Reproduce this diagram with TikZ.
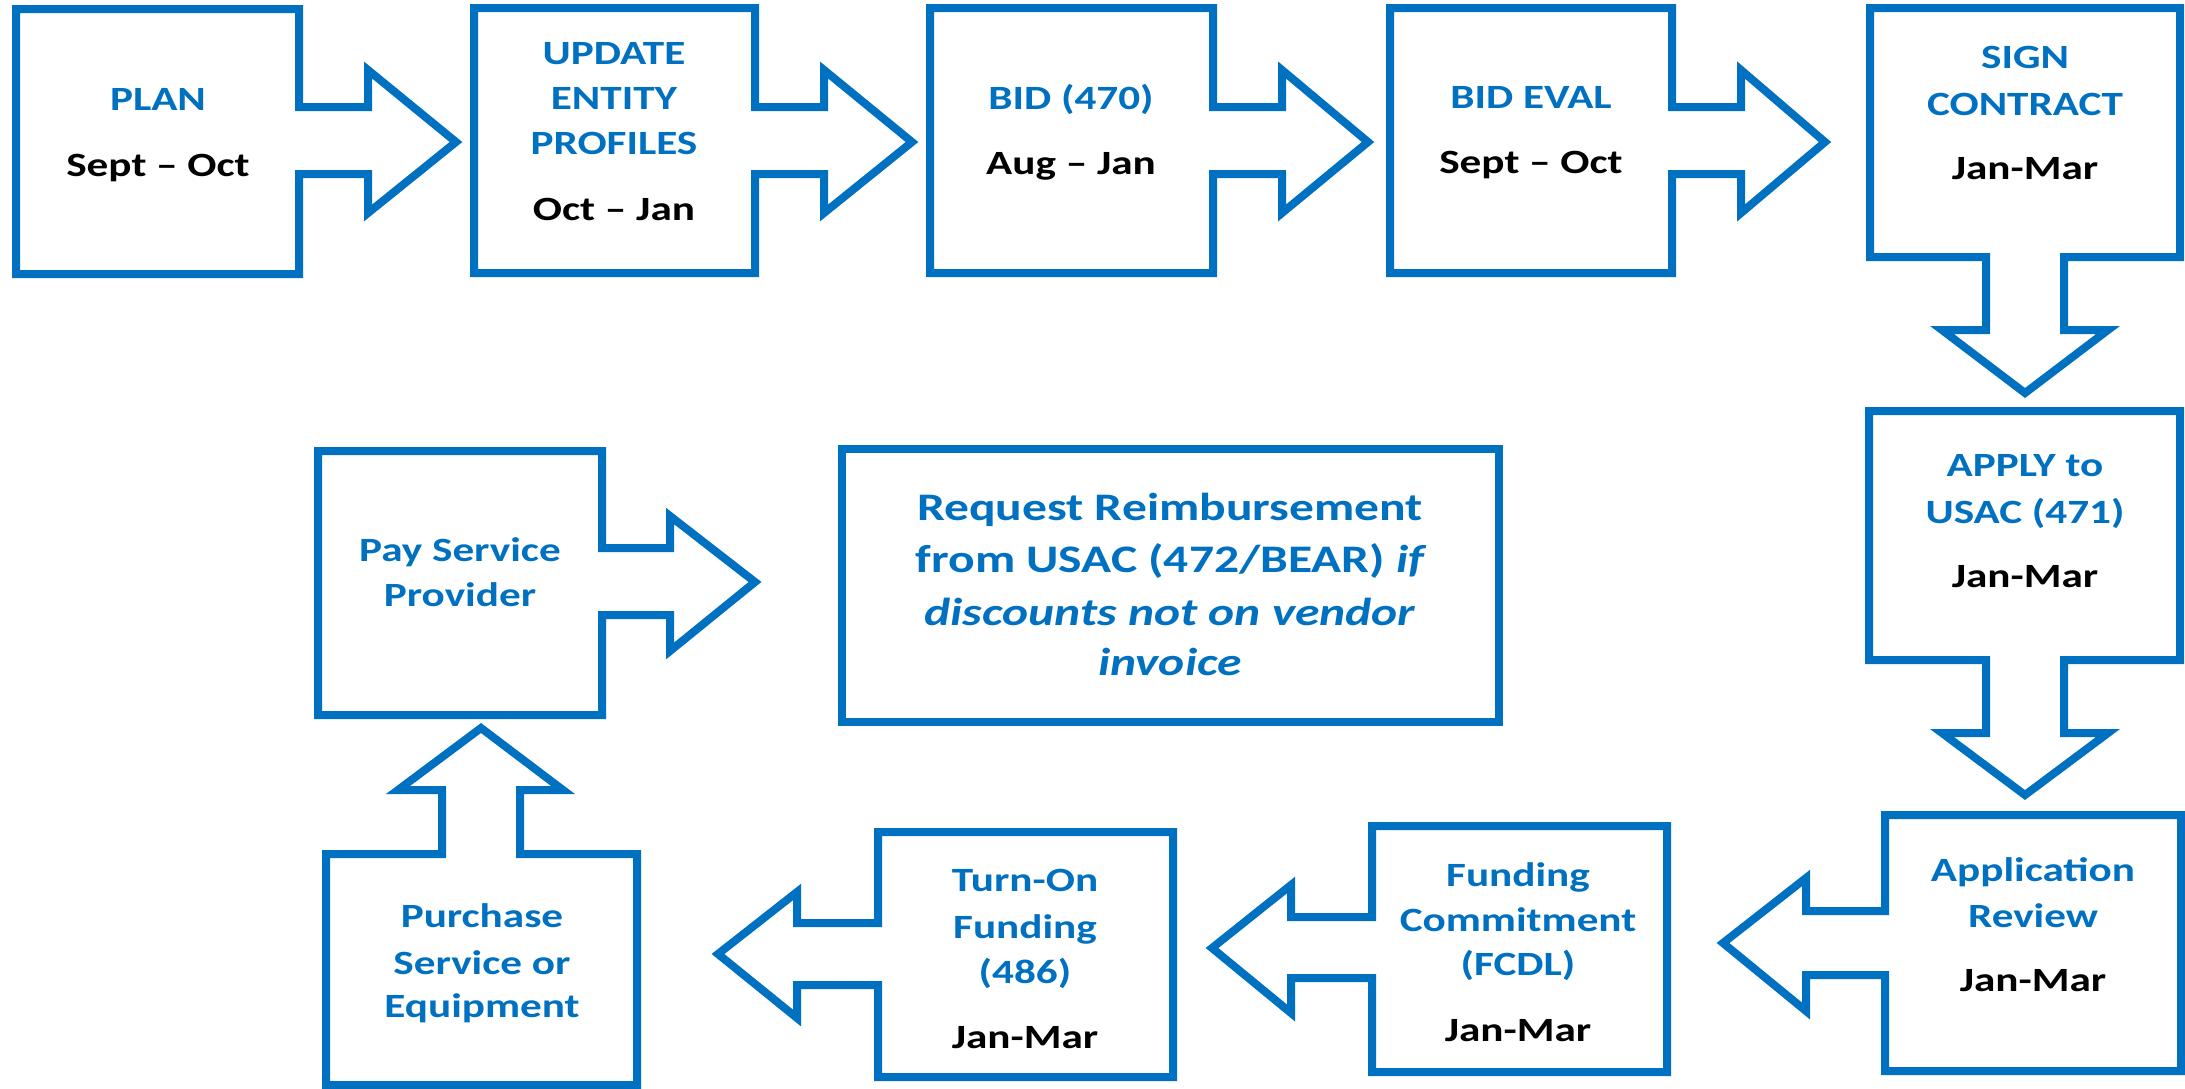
\documentclass[tikz,border=0pt]{standalone}
\usepackage{fontspec}
\setmainfont{Carlito}[FakeStretch=1.27]
\definecolor{ublue}{HTML}{0070C0}
\tikzset{
  flowshape/.style={draw=ublue, line width=8pt, line join=miter, fill=white},
  bluetxt/.style={anchor=base, text=ublue, inner sep=0pt, font=\fontsize{34}{40}\selectfont\bfseries},
  blacktxt/.style={bluetxt, text=black},
  reqtxt/.style={bluetxt, font=\fontsize{39}{46}\selectfont\bfseries},
}
\begin{document}
\begin{tikzpicture}[x=1pt,y=-1pt]
\useasboundingbox (0,0) rectangle (2185,1088);

% ---------- top row: boxes with right arrows ----------
\draw[flowshape] (16,9) -- (299,9) -- (299,107) -- (368,107) -- (368,70) -- (456,142) -- (368,213) -- (368,174) -- (299,174) -- (299,274) -- (16,274) -- cycle;
\draw[flowshape] (474,8) -- (755,8) -- (755,107) -- (824,107) -- (824,70) -- (912,142) -- (824,213) -- (824,174) -- (755,174) -- (755,273) -- (474,273) -- cycle;
\draw[flowshape] (930,8) -- (1213,8) -- (1213,107) -- (1282,107) -- (1282,70) -- (1368,142) -- (1282,213) -- (1282,174) -- (1213,174) -- (1213,273) -- (930,273) -- cycle;
\draw[flowshape] (1390,8) -- (1672,8) -- (1672,107) -- (1741,107) -- (1741,70) -- (1825,142) -- (1741,213) -- (1741,174) -- (1672,174) -- (1672,273) -- (1390,273) -- cycle;

% ---------- right column: boxes with down arrows ----------
\draw[flowshape] (1870,8) -- (2180,8) -- (2180,257) -- (2064,257) -- (2064,330) -- (2108,330) -- (2025,393) -- (1942,330) -- (1986,330) -- (1986,257) -- (1870,257) -- cycle;
\draw[flowshape] (1869,411) -- (2180,411) -- (2180,660) -- (2064,660) -- (2064,733) -- (2108,733) -- (2025,795) -- (1942,733) -- (1986,733) -- (1986,660) -- (1869,660) -- cycle;

% ---------- bottom row: boxes with left arrows ----------
\draw[flowshape] (2181,815) -- (1885,815) -- (1885,911) -- (1806,911) -- (1806,878) -- (1723,943) -- (1806,1011) -- (1806,975) -- (1885,975) -- (1885,1071) -- (2181,1071) -- cycle;
\draw[flowshape] (1667,826) -- (1372,826) -- (1372,917) -- (1291,917) -- (1291,885) -- (1212,948) -- (1291,1013) -- (1291,978) -- (1372,978) -- (1372,1072) -- (1667,1072) -- cycle;
\draw[flowshape] (1173,832) -- (878,832) -- (878,923) -- (797,923) -- (797,892) -- (718,954) -- (797,1018) -- (797,985) -- (878,985) -- (878,1077) -- (1173,1077) -- cycle;

% ---------- purchase box with up arrow ----------
\draw[flowshape] (326,1085) -- (326,854) -- (442,854) -- (442,790) -- (398,790) -- (481,728) -- (563,790) -- (520,790) -- (520,854) -- (637,854) -- (637,1085) -- cycle;

% ---------- pay box with right arrow ----------
\draw[flowshape] (318,451) -- (602,451) -- (602,548) -- (670,548) -- (670,516) -- (755,582) -- (670,651) -- (670,615) -- (602,615) -- (602,715) -- (318,715) -- cycle;

% ---------- request box ----------
\draw[flowshape] (842,449) rectangle (1499,722);

% ---------- texts ----------
\node[bluetxt]  (plan1) at (158,110) {PLAN};
\node[blacktxt] (plan2) at (158,176) {Sept – Oct};

\node[bluetxt]  (upd1) at (614,64) {UPDATE};
\node[bluetxt]  (upd2) at (614,109) {ENTITY};
\node[bluetxt]  (upd3) at (614,154) {PROFILES};
\node[blacktxt] (upd4) at (614,220) {Oct – Jan};

\node[bluetxt]  (bid1) at (1071,109) {BID (470)};
\node[blacktxt] (bid2) at (1071,174) {Aug – Jan};

\node[bluetxt]  (eval1) at (1531,108) {BID EVAL};
\node[blacktxt] (eval2) at (1531,173) {Sept – Oct};

\node[bluetxt]  (sign1) at (2025,68) {SIGN};
\node[bluetxt]  (sign2) at (2025,115) {CONTRACT};
\node[blacktxt] (sign3) at (2025,179) {Jan-Mar};

\node[bluetxt]  (apply1) at (2025,476) {APPLY to};
\node[bluetxt]  (apply2) at (2025,523) {USAC (471)};
\node[blacktxt] (apply3) at (2025,587) {Jan-Mar};

\node[bluetxt]  (rev1) at (2033,881) {Application};
\node[bluetxt]  (rev2) at (2033,927) {Review};
\node[blacktxt] (rev3) at (2033,991) {Jan-Mar};

\node[bluetxt]  (fcdl1) at (1518,886) {Funding};
\node[bluetxt]  (fcdl2) at (1518,931) {Commitment};
\node[bluetxt]  (fcdl3) at (1518,975) {(FCDL)};
\node[blacktxt] (fcdl4) at (1518,1041) {Jan-Mar};

\node[bluetxt]  (turn1) at (1025,891) {Turn-On};
\node[bluetxt]  (turn2) at (1025,938) {Funding};
\node[bluetxt]  (turn3) at (1025,983) {(486)};
\node[blacktxt] (turn4) at (1025,1048) {Jan-Mar};

\node[bluetxt]  (pur1) at (482,927) {Purchase};
\node[bluetxt]  (pur2) at (482,974) {Service or};
\node[bluetxt]  (pur3) at (482,1017) {Equipment};

\node[bluetxt]  (pay1) at (460,561) {Pay Service};
\node[bluetxt]  (pay2) at (460,606) {Provider};

\node[reqtxt] (req1) at (1170,520) {Request Reimbursement};
\node[reqtxt] (req2) at (1170,572) {from USAC (472/BEAR) {\itshape if}};
\node[reqtxt] (req3) at (1170,625) {\itshape discounts not on vendor};
\node[reqtxt] (req4) at (1170,675) {\itshape invoice};
\end{tikzpicture}
\end{document}
